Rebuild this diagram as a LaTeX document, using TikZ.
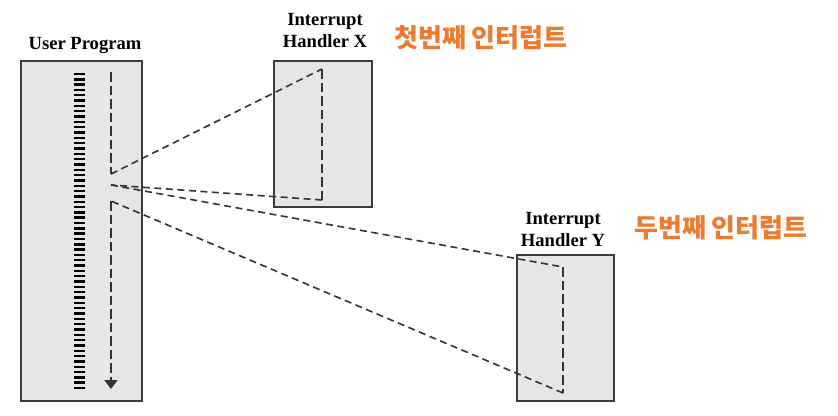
\documentclass[tikz,border=0pt]{standalone}
\usepackage{fontspec}
\setmainfont{Liberation Serif}
\newfontfamily\kr{Noto Sans CJK KR}
\usetikzlibrary{arrows.meta}
\definecolor{boxfill}{HTML}{E6E6E6}
\definecolor{boxline}{HTML}{3C3C3C}
\definecolor{korange}{HTML}{EE7A30}
\begin{document}
\begin{tikzpicture}[x=1pt,y=-1pt,
  progbox/.style={draw=boxline,fill=boxfill,line width=1.5pt,inner sep=0pt,outer sep=0pt,anchor=north west},
  title/.style={font=\fontsize{18.6}{22}\selectfont\bfseries,align=center,inner sep=0pt},
  klabel/.style={font=\kr\bfseries\fontsize{26}{30}\selectfont,text=korange,inner sep=0pt,anchor=west},
  flow/.style={line width=1.6pt,dash pattern=on 9.5pt off 4pt,draw=black!80},
  jump/.style={line width=1.6pt,dash pattern=on 7pt off 4.5pt,draw=black!80},
  hatch/.style={fill=black}]
\useasboundingbox (0,0) rectangle (838,415);
\fill[white] (0,0) rectangle (838,415);
% boxes
\node[progbox,minimum width=121pt,minimum height=340pt] (user) at (21,61) {};
\node[progbox,minimum width=98pt,minimum height=146pt] (hx) at (274,61) {};
\node[progbox,minimum width=97pt,minimum height=146pt] (hy) at (517,255) {};
% instruction bars
\foreach \i in {0,...,59}
  \fill[hatch] (74,{74+\i*5.322-1.2}) rectangle ++(11,2.4);
% flow points
\coordinate (u0) at (111,72);
\coordinate (u1) at (111,174);
\coordinate (x0) at (322,69);
\coordinate (x1) at (322,200);
\coordinate (u2) at (111,185);
\coordinate (y0) at (563,267);
\coordinate (y1) at (563,393);
\coordinate (u3) at (111,201);
\coordinate (u4) at (111,389);
\draw[flow] (u0) -- (u1);
\draw[jump] (u1) -- (x0);
\draw[flow] (x0) -- (x1);
\draw[jump] (x1) -- (u2);
\draw[jump] (u2) -- (y0);
\draw[flow] (y0) -- (y1);
\draw[jump] (y1) -- (u3);
\draw[flow,-{Triangle[width=13pt,length=9pt]}] (u3) -- (u4);
% titles
\node[title,anchor=base] (tu) at (85,49) {User Program};
\node[title,anchor=base] (tx) at (325,47) {Interrupt\\Handler X};
\node[title,anchor=base] (ty) at (563,246) {Interrupt\\Handler Y};
% korean labels
\node[klabel] (kx) at (394,38) {첫번째 인터럽트};
\node[klabel] (ky) at (634,228) {두번째 인터럽트};
\end{tikzpicture}
\end{document}
